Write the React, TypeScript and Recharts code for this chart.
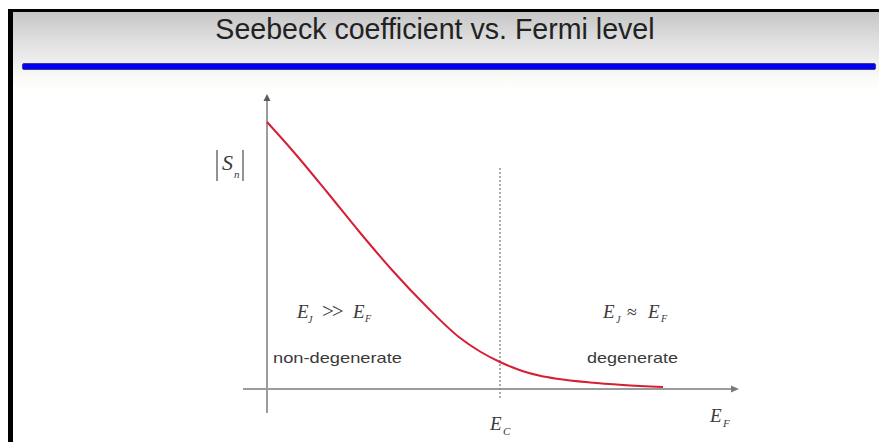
import React from "react";
import { LineChart, Line, XAxis, YAxis, ReferenceLine, ReferenceDot } from "recharts";

// Fermi level (arbitrary units, 0 = origin) and |S_n| (arbitrary units)
const fermiLevel = [0, 5, 12, 18.5, 25, 32, 38.5, 42.6, 46.6, 48.8, 51.2, 54.6, 58, 64.6, 71.2, 79.2];
const seebeck = [53.4, 47.8, 39.4, 31.4, 23.8, 16.4, 10.3, 7.5, 5.4, 4.45, 3.55, 2.65, 2.05, 1.3, 0.8, 0.4];
const conductionBandEdge = 46.6;
const titleText = "Seebeck coefficient vs. Fermi level";
const regionLabels = ["non-degenerate", "degenerate"];

const data = fermiLevel.map((x, i) => ({ x, s: seebeck[i] }));

const SERIF = "'Liberation Serif', 'Times New Roman', serif";
const SANS = "'Liberation Sans', Arial, sans-serif";
const TXT = "#3a3a3a";
const AXIS = "#9c9c9c";

const ArrowRight = (p: any) => (
  <polygon points={`${p.cx + 1},${p.cy} ${p.cx - 7},${p.cy - 3.5} ${p.cx - 7},${p.cy + 3.5}`} fill="#7a7a7a" />
);
const ArrowUp = (p: any) => (
  <polygon points={`${p.cx},${p.cy - 1} ${p.cx - 3.5},${p.cy + 6} ${p.cx + 3.5},${p.cy + 6}`} fill="#5a5a5a" />
);

const SnLabel = (p: any) => {
  const { cx, cy } = p;
  return (
    <g>
      <line x1={cx - 50} y1={cy - 20} x2={cx - 50} y2={cy + 11} stroke="#777" strokeWidth={1.6} />
      <text x={cx - 45} y={cy} fontFamily={SERIF} fontStyle="italic" fontSize={22} fill={TXT}>S</text>
      <text x={cx - 33} y={cy + 8} fontFamily={SERIF} fontStyle="italic" fontSize={11} fill={TXT}>n</text>
      <line x1={cx - 24} y1={cy - 20} x2={cx - 24} y2={cy + 11} stroke="#777" strokeWidth={1.6} />
    </g>
  );
};

const NonDegMath = (p: any) => {
  const { cx, cy } = p;
  return (
    <g fill={TXT} fontFamily={SERIF}>
      <text x={cx} y={cy} fontStyle="italic" fontSize={19}>E</text>
      <text x={cx + 11} y={cy + 5} fontStyle="italic" fontSize={10}>J</text>
      <text x={cx + 25} y={cy} fontSize={21} letterSpacing={-2}>{">>"}</text>
      <text x={cx + 56} y={cy} fontStyle="italic" fontSize={19}>E</text>
      <text x={cx + 68} y={cy + 4} fontStyle="italic" fontSize={10}>F</text>
    </g>
  );
};

const DegMath = (p: any) => {
  const { cx, cy } = p;
  return (
    <g fill={TXT} fontFamily={SERIF}>
      <text x={cx} y={cy} fontStyle="italic" fontSize={19}>E</text>
      <text x={cx + 13} y={cy + 5} fontStyle="italic" fontSize={10}>J</text>
      <text x={cx + 24} y={cy} fontSize={18}>≈</text>
      <text x={cx + 45} y={cy} fontStyle="italic" fontSize={19}>E</text>
      <text x={cx + 58} y={cy + 4} fontStyle="italic" fontSize={10}>F</text>
    </g>
  );
};

const SansLabel = (text: string, width: number) => (p: any) => (
  <text x={p.cx} y={p.cy} fontFamily={SANS} fontSize={15} fill={TXT} textLength={width} lengthAdjust="spacingAndGlyphs">
    {text}
  </text>
);

const SubLabel = (main: string, sub: string) => (p: any) => (
  <g fill={TXT} fontFamily={SERIF} fontStyle="italic">
    <text x={p.cx} y={p.cy} fontSize={19}>{main}</text>
    <text x={p.cx + 13} y={p.cy + 5} fontSize={11}>{sub}</text>
  </g>
);

const px2x = (px: number) => (px - 267) / 5;
const px2y = (py: number) => (389 - py) / 5;

export default function App() {
  return (
    <div style={{ position: "absolute", left: 0, top: 0, width: 879, height: 442, background: "#fff", overflow: "hidden" }}>
      <div style={{ position: "absolute", left: 8, top: 12, width: 871, height: 78, background: "linear-gradient(#c6c6c6 0%, #dedede 35%, #efefef 65%, #fafaf6 85%, #ffffff 100%)" }} />
      <div style={{ position: "absolute", left: 8, top: 9, width: 871, height: 3, background: "#000" }} />
      <div style={{ position: "absolute", left: 8, top: 9, width: 5, height: 433, background: "#000" }} />
      <div style={{ position: "absolute", left: 22, top: 63, width: 854, height: 7, background: "#0000f2", border: "1px solid #3a3aa0", borderRadius: 2, boxSizing: "border-box" }} />
      <div style={{ position: "absolute", left: 0, top: 13, width: 870, textAlign: "center", fontFamily: SANS, fontSize: 29, color: "#222" }}>
        <span style={{ display: "inline-block", transform: "scaleX(0.985)" }}>{titleText}</span>
      </div>
      <div style={{ position: "absolute", left: 0, top: 0 }}>
        <LineChart width={879} height={442} data={data} margin={{ top: 94, right: 137, bottom: 28, left: 242 }}>
          <XAxis type="number" dataKey="x" domain={[-5, 95]} hide allowDataOverflow />
          <YAxis type="number" domain={[-5, 59]} hide allowDataOverflow />
          <ReferenceLine segment={[{ x: -4.8, y: 0 }, { x: 93.5, y: 0 }]} stroke={AXIS} strokeWidth={2} />
          <ReferenceLine segment={[{ x: 0, y: -4.8 }, { x: 0, y: 58 }]} stroke={AXIS} strokeWidth={2} />
          <ReferenceDot x={94.2} y={0} r={4} shape={ArrowRight} ifOverflow="visible" />
          <ReferenceDot x={0} y={58.8} r={4} shape={ArrowUp} ifOverflow="visible" />
          <ReferenceLine
            segment={[{ x: conductionBandEdge, y: 44.2 }, { x: conductionBandEdge, y: -2.2 }]}
            stroke="#888"
            strokeWidth={1.4}
            strokeDasharray="2 2"
          />
          <Line type="monotone" dataKey="s" stroke="#d61f33" strokeWidth={2} dot={false} isAnimationActive={false} />
          <ReferenceDot x={0} y={px2y(170)} r={1} shape={SnLabel} ifOverflow="visible" />
          <ReferenceDot x={px2x(297)} y={px2y(318)} r={1} shape={NonDegMath} ifOverflow="visible" />
          <ReferenceDot x={px2x(603)} y={px2y(318)} r={1} shape={DegMath} ifOverflow="visible" />
          <ReferenceDot x={px2x(273)} y={px2y(363)} r={1} shape={SansLabel(regionLabels[0], 129)} ifOverflow="visible" />
          <ReferenceDot x={px2x(587)} y={px2y(363)} r={1} shape={SansLabel(regionLabels[1], 91)} ifOverflow="visible" />
          <ReferenceDot x={px2x(490)} y={px2y(430)} r={1} shape={SubLabel("E", "C")} ifOverflow="visible" />
          <ReferenceDot x={px2x(710)} y={px2y(422)} r={1} shape={SubLabel("E", "F")} ifOverflow="visible" />
        </LineChart>
      </div>
    </div>
  );
}
